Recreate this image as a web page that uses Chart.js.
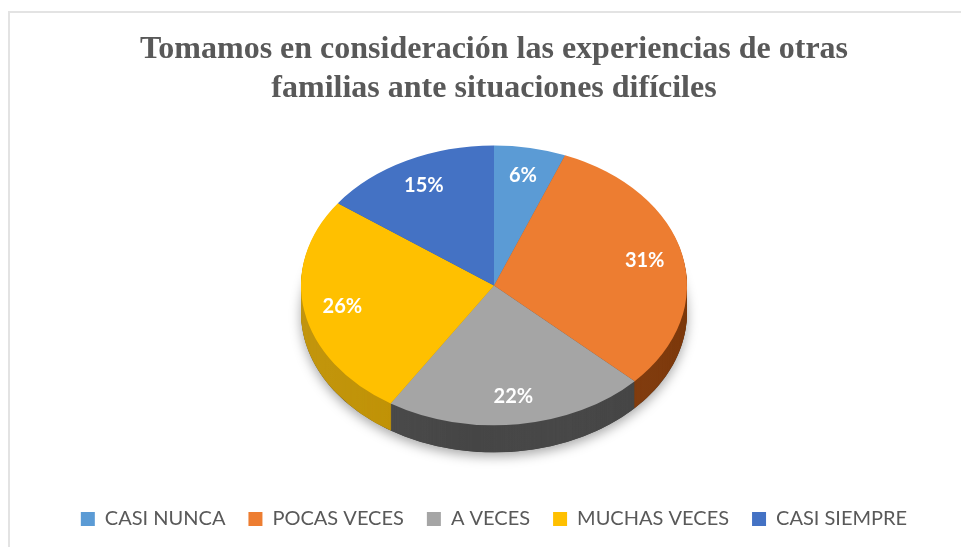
<!DOCTYPE html>
<html>
<head>
<meta charset="utf-8">
<script src="https://cdn.jsdelivr.net/npm/chart.js@4.4.0/dist/chart.umd.min.js"></script>
<style>
  html, body { margin: 0; padding: 0; background: #fff; }
  #wrap { position: relative; width: 961px; height: 547px; overflow: hidden; }
  #frame { position: absolute; left: 8px; top: 11px; width: 1000px; height: 600px;
           border-left: 2px solid #e3e3e3; border-top: 2px solid #e3e3e3; }
  #pie { position: absolute; left: 0; top: 0; }
</style>
</head>
<body>
<div id="wrap">
  <div id="frame"></div>
  <canvas id="pie" width="961" height="547"></canvas>
</div>
<script>
const categories = ['CASI NUNCA', 'POCAS VECES', 'A VECES', 'MUCHAS VECES', 'CASI SIEMPRE'];
const percentages = [6, 31, 22, 26, 15];
const titleLines = ['Tomamos en consideración las experiencias de otras', 'familias ante situaciones difíciles'];

const topColors = ['#5B9BD5', '#ED7D31', '#A5A5A5', '#FFC000', '#4472C4'];
const sideColors = ['#41719C', '#843C0C', '#464646', '#BF9000', '#2F5597'];
const tilt = 0.725;
const depth = 27;

// fake 3d: squash the pie and draw a wall under it
const pie3d = {
    id: 'pie3d',
    beforeDatasetsDraw(chart) {
        const ctx = chart.ctx;
        const arcs = chart.getDatasetMeta(0).data;
        const cx = arcs[0].x, cy = arcs[0].y, r = arcs[0].outerRadius;
        ctx.save();

        // soft shadow under the base
        ctx.save();
        ctx.translate(cx, cy + depth);
        ctx.scale(1, tilt);
        ctx.shadowColor = 'rgba(0,0,0,0.35)';
        ctx.shadowBlur = 12;
        ctx.shadowOffsetY = 4;
        ctx.beginPath();
        ctx.arc(0, 0, r, 0, Math.PI * 2);
        ctx.fillStyle = '#444';
        ctx.fill();
        ctx.restore();

        for (let d = depth; d > 0; d--) {
            arcs.forEach((arc, i) => {
                ctx.save();
                ctx.translate(cx, cy + d);
                ctx.scale(1, tilt);
                ctx.beginPath();
                ctx.moveTo(0, 0);
                ctx.arc(0, 0, arc.outerRadius, arc.startAngle, arc.endAngle);
                ctx.closePath();
                ctx.fillStyle = sideColors[i];
                ctx.fill();
                ctx.restore();
            });
        }

        // lighter left end of the wall
        ctx.save();
        ctx.beginPath();
        ctx.ellipse(cx, cy + depth, r, r * tilt, 0, 0, Math.PI);
        ctx.lineTo(cx - r, cy);
        ctx.ellipse(cx, cy, r, r * tilt, 0, Math.PI, 0, true);
        ctx.closePath();
        const g = ctx.createLinearGradient(cx - r, 0, cx + r, 0);
        g.addColorStop(0, 'rgba(255,255,255,0.05)');
        g.addColorStop(0.45, 'rgba(255,255,255,0)');
        g.addColorStop(1, 'rgba(0,0,0,0.06)');
        ctx.fillStyle = g;
        ctx.fill();
        ctx.restore();

        ctx.translate(cx, cy);
        ctx.scale(1, tilt);
        ctx.translate(-cx, -cy);
    },
    afterDatasetsDraw(chart) {
        const ctx = chart.ctx;
        ctx.restore();
        const arcs = chart.getDatasetMeta(0).data;
        ctx.save();
        ctx.fillStyle = '#fff';
        ctx.font = 'bold 20px Lato';
        ctx.textAlign = 'center';
        ctx.textBaseline = 'middle';
        arcs.forEach((arc, i) => {
            const mid = (arc.startAngle + arc.endAngle) / 2;
            const rr = arc.outerRadius * 0.8;
            const x = arc.x + Math.cos(mid) * rr;
            const y = arc.y + Math.sin(mid) * rr * tilt;
            ctx.fillText(percentages[i] + '%', x, y);
        });
        ctx.restore();
    }
};

new Chart('pie', {
    type: 'pie',
    data: {
        labels: categories,
        datasets: [{
            data: percentages,
            backgroundColor: topColors,
            borderWidth: 0,
            radius: 193,
            clip: false
        }]
    },
    options: {
        responsive: false,
        animation: false,
        events: [],
        layout: { padding: { left: 27, right: 0, top: 0, bottom: 8 } },
        plugins: {
            title: {
                display: true,
                text: titleLines,
                color: '#595959',
                font: { family: 'Liberation Serif', size: 32, weight: 'bold', lineHeight: 1.2 },
                padding: { top: 31, bottom: -23 }
            },
            legend: {
                position: 'bottom',
                labels: {
                    color: '#595959',
                    font: { family: 'Lato', size: 20 },
                    boxWidth: 14,
                    boxHeight: 14,
                    padding: 23
                }
            },
            tooltip: { enabled: false }
        }
    },
    plugins: [pie3d]
});
</script>
</body>
</html>
